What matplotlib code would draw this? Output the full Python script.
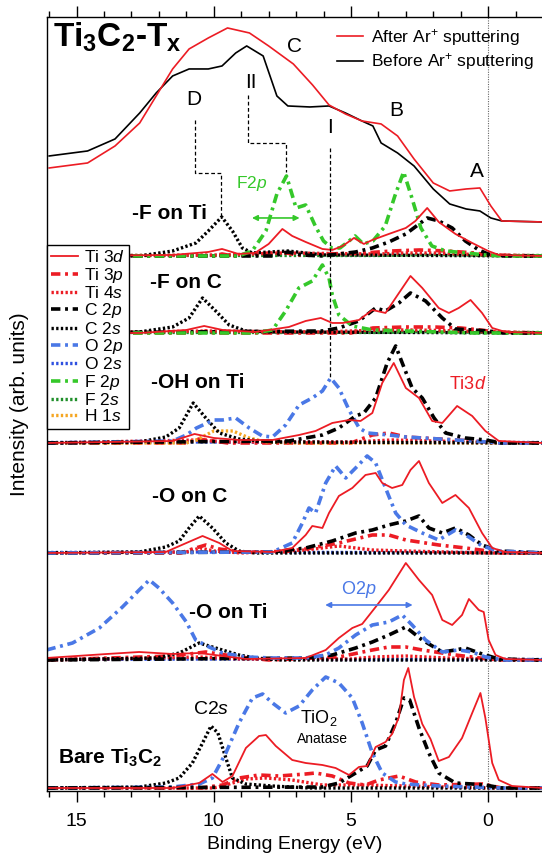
import matplotlib
matplotlib.use("Agg")
import matplotlib.pyplot as plt
import numpy as np
from matplotlib.lines import Line2D
from matplotlib.ticker import MultipleLocator

plt.rcParams['font.family'] = ['Liberation Sans', 'DejaVu Sans']
plt.rcParams['mathtext.fontset'] = 'custom'
plt.rcParams['mathtext.rm'] = 'Liberation Sans'
plt.rcParams['mathtext.it'] = 'Liberation Sans:italic'
plt.rcParams['mathtext.bf'] = 'Liberation Sans:bold'

# ---- experimental spectra (binding energy in eV, intensity arb.) ----
EXP_AFTER_E = [16.0, 14.6, 13.6, 12.7, 12.1, 11.5, 10.9, 10.2, 9.5, 8.7, 8.0, 7.1, 6.4, 5.8, 5.2,
               4.6, 3.9, 3.3, 2.7, 2.0, 1.4, 0.8, 0.3, -0.1, -0.5, -2.0]
EXP_AFTER_I = [54, 59, 76, 99, 126, 153, 173, 184, 194, 189, 176, 158, 137, 117, 108,
               101, 98, 86, 63, 39, 31, 33, 34, 16, 1, 0]
EXP_BEFORE_E = [16.0, 14.6, 13.6, 12.7, 12.1, 11.5, 10.9, 10.2, 9.7, 9.2, 8.8, 8.2, 7.7, 7.3, 6.5,
                5.8, 5.2, 4.6, 4.2, 3.9, 3.3, 2.7, 2.0, 1.4, 0.8, 0.3, -0.1, -0.5, -2.0]
EXP_BEFORE_I = [66, 71, 83, 109, 129, 146, 153, 153, 156, 169, 176, 166, 126, 116, 115,
                116, 109, 101, 96, 79, 69, 56, 33, 18, 13, 11, 4, 1, 0]

# ---- -F on Ti ----
FTI_TI3D = ([16.1, 11.5, 10.2, 9.7, 9.1, 8.5, 8.0, 7.5, 7.14, 6.65, 6.04, 5.68, 5.3, 4.89, 4.53, 4.22,
             3.62, 3.0, 2.65, 2.22, 1.8, 1.19, 0.58, 0.0, -0.39, -2.0],
            [0, 1, 4, 7, 2, 3, 12, 27, 20, 14, 7, 6, 10, 18, 12, 16,
             22, 28, 35, 48, 34, 22, 13, 5, 1, 0])
FTI_F2P = ([16.1, 9.1, 8.6, 8.1, 7.7, 7.35, 7.0, 6.65, 6.3, 6.0, 5.7, 5.4, 5.07, 4.85, 4.55, 4.2,
            3.75, 3.4, 3.08, 2.8, 2.45, 2.05, 1.55, 0.8, 0.1, -0.6, -2.0],
           [0, 0, 5, 25, 62, 80, 48, 51, 30, 15, 8, 8, 15, 20, 12, 15,
            30, 60, 84, 60, 28, 10, 5, 3, 1, 0, 0])
FTI_C2P = ([16.1, 7.8, 7.3, 6.8, 6.04, 4.83, 4.22, 3.62, 3.0, 2.22, 1.8, 1.31, 0.83, 0.34, 0.0, -0.6, -2.0],
           [0, 0, 4, 1, 0, 4, 8, 14, 22, 38, 35, 28, 15, 6, 2, 0, 0])
FTI_C2S = ([16.1, 12.7, 11.5, 10.65, 10.2, 9.71, 9.32, 8.96, 8.6, 7.3, 6.0, -2.0],
           [0, 0, 5, 13, 25, 39, 25, 8, 3, 5, 1, 0])
FTI_TI3P = ([16.1, 10.0, 9.7, 9.3, 7.5, 7.0, 4.5, 3.5, 2.5, 1.5, 0.5, 0.0, -2.0],
            [0, 0, 2, 0, 4, 1, 3, 5, 6, 5, 3, 1, 0])
FTI_TI4S = ([16.1, 9.7, 7.5, 4.0, 3.0, 2.0, 1.0, 0.0, -2.0],
            [0, 1, 3, 2, 3, 3, 2, 1, 0])
FTI_F2S = ([16.1, 4.0, 2.0, 0.0, -2.0], [0.5, 0.5, 1.5, 0.5, 0.5])

# ---- -F on C ----
FC_TI3D = ([16.1, 12.7, 11.0, 10.35, 9.68, 8.47, 7.26, 6.65, 6.1, 5.68, 5.3, 4.71, 4.22, 3.74, 3.25,
            2.83, 2.4, 1.8, 1.43, 1.07, 0.64, 0.22, -0.15, -0.63, -2.0],
           [0, 0, 3, 7, 3, 1, 6, 12, 15, 10, 10, 13, 23, 20, 40,
            57, 45, 25, 20, 25, 33, 20, 5, 1, 0])
FC_F2P = ([16.1, 8.5, 7.86, 7.38, 6.9, 6.41, 6.04, 5.8, 5.68, 5.44, 4.95, 4.22, 3.0, 1.8, 0.58, -2.0],
          [0, 0, 3, 22, 45, 52, 68, 55, 38, 18, 7, 3, 2, 1, 0, 0])
FC_C2P = ([16.1, 6.04, 5.44, 4.71, 4.1, 3.74, 3.25, 2.83, 2.28, 1.67, 1.19, 0.58, 0.0, -0.6, -2.0],
          [0, 2, 5, 12, 25, 22, 30, 40, 32, 15, 4, 3, 2, 0, 0])
FC_C2S = ([16.1, 12.72, 11.5, 10.9, 10.41, 9.93, 9.44, 8.83, 7.86, -2.0],
          [0, 1, 6, 15, 35, 22, 8, 2, 1, 0])
FC_TI3P = ([16.1, 10.5, 10.3, 10.0, 5.0, 4.2, 3.0, 2.0, 1.0, 0.3, -0.3, -2.0],
           [0, 0, 2, 0, 0, 5, 6, 6, 5, 3, 1, 0])
FC_TI4S = ([16.1, 10.3, 6.0, 4.0, 2.5, 1.0, 0.0, -2.0], [0, 2, 1, 3, 3, 2, 1, 0])
FC_F2S = ([16.1, 4.0, 2.0, 0.0, -2.0], [0.5, 0.5, 1.5, 0.5, 0.5])

# ---- -OH on Ti ----
OH_TI3D = ([16.1, 11.5, 10.7, 10.0, 9.08, 7.86, 6.89, 6.29, 5.68, 5.07, 4.65, 4.22, 3.86, 3.44, 3.0,
            2.52, 2.04, 1.67, 1.13, 0.58, 0.1, -0.39, -2.0],
           [0, 2, 9, 5, 3, 3, 8, 12, 20, 23, 22, 30, 60, 80, 55,
            45, 22, 20, 37, 27, 12, 2, 0])
OH_O2P = ([16.1, 11.5, 11.0, 10.63, 10.0, 9.68, 9.2, 8.71, 8.23, 7.86, 7.38, 6.89, 6.41, 6.04, 5.74,
           5.44, 5.07, 4.7, 4.4, 3.62, 3.0, 1.8, 0.58, -0.5, -2.0],
          [0, 2, 8, 15, 23, 23, 25, 15, 7, 6, 18, 38, 45, 52, 65,
           55, 33, 15, 10, 8, 6, 4, 2, 0, 0])
OH_C2P = ([16.1, 7.26, 6.04, 5.44, 4.83, 4.53, 4.1, 3.68, 3.37, 3.13, 2.77, 2.4, 1.97, 1.55, 0.83,
           0.1, -0.5, -2.0],
          [0, 2, 8, 15, 27, 30, 45, 80, 97, 80, 55, 45, 25, 10, 5,
           3, 0, 0])
OH_C2S = ([16.1, 12.72, 11.75, 11.26, 10.75, 10.29, 9.8, 9.08, 7.86, -2.0],
          [0, 1, 6, 15, 40, 25, 10, 4, 1, 0])
OH_H1S = ([16.1, 11.0, 10.63, 10.0, 9.3, 8.71, 8.1, 7.0, -2.0], [0, 0, 3, 12, 12, 5, 1, 0, 0])
OH_TI3P = ([16.1, 11.0, 10.6, 10.0, 9.5, 5.0, 4.71, 4.22, 3.62, 3.0, 1.8, 0.58, -0.3, -2.0],
           [0, 0, 4, 2, 0, 0, 3, 8, 10, 6, 4, 2, 0, 0])
OH_TI4S = ([16.1, 10.6, 9.5, 5.0, 3.5, 2.0, 0.5, -2.0], [0, 3, 1, 1, 3, 2, 1, 0])
OH_O2S = ([16.1, 10.5, 5.0, -2.0], [0.5, 1.0, 0.5, 0.5])

# ---- -O on C ----
OC_TI3D = ([16.1, 11.75, 11.0, 10.41, 9.8, 9.32, 7.86, 7.14, 6.65, 6.41, 6.04, 5.8, 5.44, 4.95, 4.47,
            4.1, 3.86, 3.5, 3.13, 2.83, 2.52, 2.16, 1.67, 1.19, 0.7, 0.22, -0.15, -0.63, -2.0],
           [0, 1, 10, 17, 10, 2, 1, 5, 18, 27, 25, 40, 57, 65, 78,
            80, 70, 65, 68, 83, 92, 70, 50, 58, 45, 20, 5, 1, 0])
OC_O2P = ([16.1, 7.86, 7.14, 6.77, 6.53, 6.29, 5.92, 5.56, 5.19, 4.83, 4.41, 4.1, 3.74, 3.37, 3.0,
           2.4, 1.8, 1.19, 0.7, 0.22, -0.39, -2.0],
          [0, 1, 10, 30, 45, 40, 70, 87, 75, 85, 97, 90, 65, 40, 28,
           20, 13, 23, 16, 7, 2, 0])
OC_C2P = ([16.1, 7.86, 6.65, 5.68, 4.83, 4.22, 3.62, 3.0, 2.52, 2.16, 1.67, 1.19, 0.7, 0.22, -0.39, -2.0],
          [0, 1, 5, 12, 20, 23, 28, 32, 37, 25, 20, 25, 18, 8, 2, 0])
OC_C2S = ([16.1, 12.72, 11.75, 11.26, 10.9, 10.53, 10.05, 9.56, 9.08, 8.5, -2.0],
          [0, 1, 6, 12, 25, 37, 25, 10, 2, 0, 0])
OC_TI3P = ([16.1, 11.2, 10.78, 10.29, 9.8, 9.0, 7.5, 6.65, 5.44, 4.22, 3.62, 3.0, 1.8, 0.83, 0.0, -0.6, -2.0],
           [0, 0, 4, 8, 4, 1, 1, 4, 10, 18, 18, 13, 8, 5, 2, 0, 0])
OC_TI4S = ([16.1, 11.0, 10.5, 10.0, 9.0, 6.65, 5.44, 4.22, 3.0, 1.5, 0.0, -2.0],
           [0, 1, 5, 2, 0, 3, 7, 3, 2, 1, 0, 0])
OC_O2S = ([16.1, 10.5, 5.0, -2.0], [0.5, 1.0, 0.5, 0.5])

# ---- -O on Ti ----
OTI_O2P = ([16.1, 15.15, 14.17, 13.33, 12.72, 12.35, 12.0, 11.5, 11.0, 10.66, 10.17, 9.68, 8.83, 7.86,
            6.65, 5.92, 5.44, 4.83, 4.22, 3.62, 3.13, 2.77, 2.28, 1.67, 1.07, 0.58, 0.1, -0.6, -2.0],
           [10, 17, 32, 53, 70, 80, 72, 57, 38, 20, 13, 7, 3, 2,
            2, 5, 12, 25, 35, 38, 45, 35, 20, 8, 10, 8, 3, 0, 0])
OTI_TI3D = ([16.1, 13.9, 12.72, 11.5, 10.53, 9.68, 8.83, 6.65, 5.92, 5.44, 4.95, 4.59, 4.1, 3.62, 3.0,
             2.52, 2.04, 1.67, 1.31, 0.95, 0.7, 0.34, 0.16, -0.02, -0.27, -0.63, -2.0],
            [2, 6, 8, 6, 7, 4, 1, 2, 10, 22, 32, 36, 53, 70, 97,
             80, 65, 40, 35, 45, 61, 50, 48, 20, 5, 1, 0])
OTI_C2P = ([16.1, 6.65, 5.68, 4.83, 4.22, 3.62, 3.0, 2.4, 1.67, 1.19, 0.83, 0.22, -0.39, -2.0],
           [0, 2, 5, 12, 18, 25, 33, 20, 8, 10, 12, 6, 1, 0])
OTI_C2S = ([16.1, 12.1, 11.26, 10.53, 9.93, 9.08, 8.47, 7.6, -2.0], [0, 2, 7, 17, 12, 5, 2, 0, 0])
OTI_TI3P = ([16.1, 11.5, 10.29, 9.08, 8.0, 5.44, 4.22, 3.62, 3.0, 2.4, 1.19, 0.0, -0.5, -2.0],
            [0, 4, 8, 3, 0, 3, 10, 13, 13, 10, 5, 1, 0, 0])
OTI_TI4S = ([16.1, 10.5, 9.0, 5.0, 4.2, 3.0, 1.5, 0.0, -2.0], [0, 3, 1, 1, 3, 4, 2, 1, 0])
OTI_O2S = ([16.1, 10.5, 5.0, -2.0], [0.5, 1.0, 0.5, 0.5])

# ---- Bare Ti3C2 ----
BARE_TI3D = ([16.1, 11.5, 10.53, 10.05, 9.68, 9.32, 8.83, 8.35, 8.1, 7.74, 7.14, 6.65, 6.04, 5.56, 5.07,
              4.71, 4.41, 4.1, 3.74, 3.5, 3.25, 3.07, 2.91, 2.7, 2.4, 2.1, 1.8, 1.43, 0.95, 0.58,
              0.28, 0.1, -0.15, -0.39, -0.87, -2.0],
             [0, 0, 5, 14, 6, 12, 40, 52, 53, 42, 28, 25, 23, 20, 13,
              21, 22, 41, 46, 54, 71, 108, 120, 91, 64, 49, 27, 31, 50, 75,
              95, 70, 25, 8, 2, 0])
BARE_O2P = ([16.1, 11.5, 10.53, 10.05, 9.56, 9.08, 8.59, 8.22, 7.86, 7.38, 6.89, 6.41, 5.92, 5.44, 4.95,
             4.59, 4.22, 3.86, 3.37, 3.0, 1.8, 0.58, -0.5, -2.0],
            [0, 1, 4, 10, 35, 65, 90, 94, 85, 75, 82, 98, 111, 105, 90,
             65, 35, 15, 6, 4, 2, 1, 0, 0])
BARE_C2P = ([16.1, 6.04, 5.44, 4.83, 4.41, 4.1, 3.74, 3.37, 3.07, 2.86, 2.52, 2.16, 1.8, 1.19, 0.58,
             0.1, -0.5, -2.0],
            [0, 1, 5, 15, 22, 38, 42, 65, 90, 88, 60, 35, 15, 5, 4,
             3, 0, 0])
BARE_C2S = ([16.1, 12.72, 11.75, 11.26, 10.78, 10.41, 10.1, 9.85, 9.56, 9.32, 8.83, 7.86, 6.5, -2.0],
            [0, 1, 5, 10, 25, 45, 62, 55, 30, 10, 4, 2, 0, 0])
BARE_TI3P = ([16.1, 10.5, 9.68, 9.08, 8.35, 7.62, 6.65, 6.29, 5.68, 5.07, 4.47, 3.98, 3.25, 2.64, 1.8,
              0.2, -0.5, -2.0],
             [0, 0, 3, 10, 13, 12, 14, 15, 12, 5, 3, 8, 12, 6, 3,
              4, 0, 0])
BARE_TI4S = ([16.1, 10.0, 9.56, 8.83, 8.1, 7.14, 6.04, 4.5, 3.0, 1.5, 0.0, -2.0],
             [0, 0, 3, 9, 10, 8, 3, 3, 2, 1, 0, 0])

COMPONENTS = ['Ti 3d', 'Ti 3p', 'Ti 4s', 'C 2p', 'C 2s', 'O 2p', 'O 2s', 'F 2p', 'F 2s', 'H 1s']

RED = '#ec1c24'
BLUE = '#4a78e6'
GREEN = '#35c82a'
DD = (0, (2.6, 1.3, 0.8, 1.3))
DOT = (0, (0.7, 0.7))
STYLE = {
    'Ti 3d': dict(color=RED, lw=1.3, ls='-'),
    'Ti 3p': dict(color=RED, lw=2.6, ls=DD),
    'Ti 4s': dict(color=RED, lw=2.4, ls=DOT),
    'C 2p': dict(color='black', lw=2.6, ls=DD),
    'C 2s': dict(color='black', lw=2.4, ls=DOT),
    'O 2p': dict(color=BLUE, lw=2.6, ls=DD),
    'O 2s': dict(color='#2e50e0', lw=2.4, ls=DOT),
    'F 2p': dict(color=GREEN, lw=2.6, ls=DD),
    'F 2s': dict(color='#1f8f2a', lw=2.4, ls=DOT),
    'H 1s': dict(color='#f5a623', lw=2.4, ls=DOT),
}

# vertical offsets of the stacked spectra
OFF_TOP, OFF_FTI, OFF_FC, OFF_OH, OFF_OC, OFF_OTI, OFF_BARE = 569, 535, 458, 348, 238, 131, 3

PANELS = [
    (OFF_FTI, [('F 2s', FTI_F2S), ('Ti 4s', FTI_TI4S), ('Ti 3p', FTI_TI3P), ('C 2s', FTI_C2S),
               ('C 2p', FTI_C2P), ('F 2p', FTI_F2P), ('Ti 3d', FTI_TI3D)]),
    (OFF_FC, [('F 2s', FC_F2S), ('Ti 4s', FC_TI4S), ('Ti 3p', FC_TI3P), ('C 2s', FC_C2S),
              ('C 2p', FC_C2P), ('F 2p', FC_F2P), ('Ti 3d', FC_TI3D)]),
    (OFF_OH, [('O 2s', OH_O2S), ('Ti 4s', OH_TI4S), ('Ti 3p', OH_TI3P), ('H 1s', OH_H1S), ('C 2s', OH_C2S),
              ('O 2p', OH_O2P), ('C 2p', OH_C2P), ('Ti 3d', OH_TI3D)]),
    (OFF_OC, [('O 2s', OC_O2S), ('Ti 4s', OC_TI4S), ('Ti 3p', OC_TI3P), ('C 2s', OC_C2S),
              ('C 2p', OC_C2P), ('O 2p', OC_O2P), ('Ti 3d', OC_TI3D)]),
    (OFF_OTI, [('O 2s', OTI_O2S), ('Ti 4s', OTI_TI4S), ('Ti 3p', OTI_TI3P), ('C 2s', OTI_C2S),
               ('C 2p', OTI_C2P), ('O 2p', OTI_O2P), ('Ti 3d', OTI_TI3D)]),
    (OFF_BARE, [('Ti 4s', BARE_TI4S), ('Ti 3p', BARE_TI3P), ('C 2s', BARE_C2S),
                ('O 2p', BARE_O2P), ('C 2p', BARE_C2P), ('Ti 3d', BARE_TI3D)]),
]

fig = plt.figure(figsize=(5.42, 8.61), dpi=100)
ax = fig.add_axes([0.0862, 0.0813, 0.9156, 0.899])
ax.set_xlim(16.09, -2.0)
ax.set_ylim(0, 774)

for off, curves in PANELS:
    for name, (e, h) in curves:
        ax.plot(e, np.array(h) + off, **STYLE[name])

ax.plot(EXP_BEFORE_E, np.array(EXP_BEFORE_I) + OFF_TOP, color='black', lw=1.2)
ax.plot(EXP_AFTER_E, np.array(EXP_AFTER_I) + OFF_TOP, color=RED, lw=1.2)

ax.axvline(0, color='#666666', lw=0.8, ls=(0, (1, 1.2)), zorder=0.5)

# guide lines D, II, I
dash = dict(color='black', lw=0.9, ls=(0, (3, 2)))
ax.plot([10.67, 10.67, 9.72, 9.72], [671, 618, 618, OFF_FTI + max(FTI_C2S[1])], **dash)
ax.plot([8.74, 8.74, 7.35, 7.35], [696, 648, 648, OFF_FTI + max(FTI_F2P[1])], **dash)
ax.plot([5.75, 5.75], [643, OFF_OH + max(OH_O2P[1])], **dash)

# labels on the plot
for s, x, y in [('C', 7.06, 744), ('II', 8.63, 708), ('D', 10.72, 691), ('I', 5.75, 663),
                ('B', 3.35, 680), ('A', 0.4, 619)]:
    ax.text(x, y, s, fontsize=15, ha='center', va='center')

ax.text(15.87, 754, r'Ti$_\mathbf{3}$C$_\mathbf{2}$-T$_\mathbf{x}$', fontsize=24,
        fontweight='bold', ha='left', va='center')

for s, x, y in [('-F on Ti', 11.61, 577), ('-F on C', 11.03, 508), ('-OH on Ti', 10.59, 408),
                ('-O on C', 10.88, 294), ('-O on Ti', 9.46, 178),
                (r'Bare Ti$_\mathbf{3}$C$_\mathbf{2}$', 13.76, 33)]:
    ax.text(x, y, s, fontsize=15, fontweight='bold', ha='center', va='center')

ax.text(8.63, 607, r'F$\mathit{2p}$', fontsize=12.5, color=GREEN, ha='center', va='center')
ax.annotate('', xy=(8.71, 573), xytext=(6.77, 573),
            arrowprops=dict(arrowstyle='<|-|>', color=GREEN, lw=1.2, mutation_scale=8))
ax.text(0.76, 406, r'Ti$\mathit{3d}$', fontsize=13, color=RED, ha='center', va='center')
ax.text(4.7, 201, r'O$\mathit{2p}$', fontsize=13, color=BLUE, ha='center', va='center')
ax.annotate('', xy=(6.04, 186), xytext=(2.65, 186),
            arrowprops=dict(arrowstyle='<|-|>', color=BLUE, lw=1.2, mutation_scale=8))
ax.text(10.08, 81, r'C$\mathit{2s}$', fontsize=14, ha='center', va='center')
ax.text(6.19, 73, r'TiO$_2$', fontsize=13, ha='center', va='center')
ax.text(6.02, 52, 'Anatase', fontsize=10, ha='center', va='center')

# legends
comp_handles = [Line2D([], [], **STYLE[n]) for n in COMPONENTS]
comp_labels = [n.split()[0] + r' $\mathit{' + n.split()[1] + '}$' for n in COMPONENTS]
leg1 = ax.legend(comp_handles, comp_labels, loc='upper left', bbox_to_anchor=(0.0, 0.7054),
                 borderaxespad=0, fontsize=12.5, frameon=True, fancybox=False, framealpha=1,
                 edgecolor='black', handlelength=1.55, handletextpad=0.35, labelspacing=0.02,
                 borderpad=0.25)
leg1.get_frame().set_linewidth(1.0)
ax.add_artist(leg1)

exp_handles = [Line2D([], [], color=RED, lw=1.2), Line2D([], [], color='black', lw=1.2)]
ax.legend(exp_handles, ['After Ar$^{+}$ sputtering', 'Before Ar$^{+}$ sputtering'],
          loc='upper left', bbox_to_anchor=(0.585, 0.987), borderaxespad=0, borderpad=0,
          frameon=False, fontsize=12.5, handlelength=1.5, handletextpad=0.45, labelspacing=0.2)

# axes styling
ax.xaxis.set_major_locator(MultipleLocator(5))
ax.xaxis.set_minor_locator(MultipleLocator(1))
ax.tick_params(axis='x', which='both', direction='out', top=True, bottom=True,
               labeltop=False, labelsize=14, width=1, pad=8)
ax.tick_params(axis='x', which='major', length=8)
ax.tick_params(axis='x', which='minor', length=4)
ax.tick_params(axis='y', left=False, labelleft=False)
ax.spines['right'].set_visible(False)
for sp in ['left', 'top', 'bottom']:
    ax.spines[sp].set_linewidth(1.0)

ax.set_xlabel('Binding Energy (eV)', fontsize=14, labelpad=4.5)
ax.set_ylabel('Intensity (arb. units)', fontsize=15)
ax.yaxis.set_label_coords(-0.036, 0.5)

fig.savefig('out.png', dpi=100)
